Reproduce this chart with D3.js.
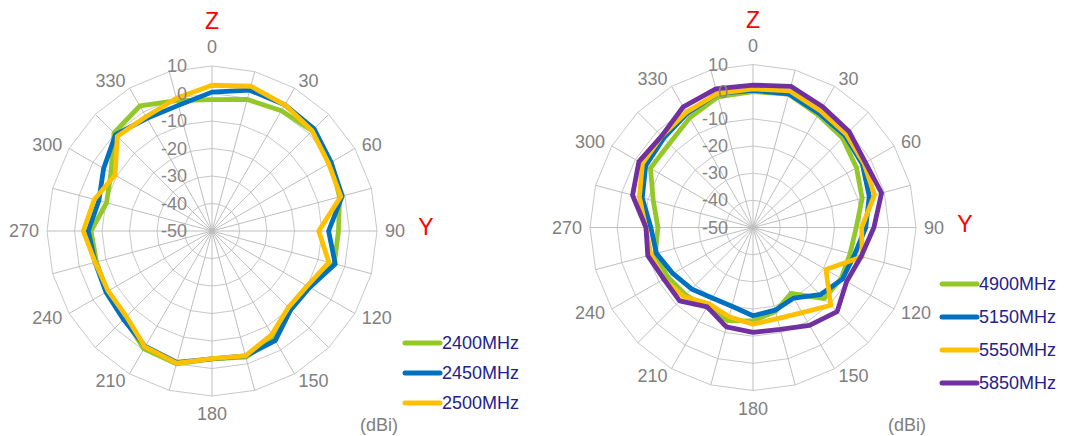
<!DOCTYPE html>
<html>
<head>
<meta charset="utf-8">
<script src="https://cdn.jsdelivr.net/npm/d3@7"></script>
<style>
  body { margin: 0; background: #fff; }
  svg text { font-family: "Liberation Sans", Arial, sans-serif; }
</style>
</head>
<body>
<div id="my_dataviz"></div>
<script>
// angle categories (degrees) and radial tick labels (dBi)
var angles = [0, 15, 30, 45, 60, 75, 90, 105, 120, 135, 150, 165,
              180, 195, 210, 225, 240, 255, 270, 285, 300, 315, 330, 345];
var angleLabels = [0, 30, 60, 90, 120, 150, 180, 210, 240, 270, 300, 330];
var ringTicks = [-50, -40, -30, -20, -10, 0, 10];

// 2.4 GHz band
var f2400 = [-2.2, -0.5, 0.5, 1.5, 0, -2, -4, -4, -10, -10.5, -5, -2.5,
             -3.5, 0, -0.5, -5, -6, -6.5, -6, -10.3, -7.6, 0.4, 2.5, -0.9];
var f2450 = [0.5, 3, 3, 2.5, 0, -1, -7.6, -3.6, -9, -9.5, -4, -3,
             -3.5, -0.5, -1.5, -4.5, -5.5, -6, -5, -7.4, -4.5, -0.4, -2.7, -2.7];
var f2500 = [3, 4.5, 3, 1.5, -1, -1.5, -11.2, -6, -10, -10.7, -6.5, -3,
             -3.6, -0.3, -1.3, -6, -6.4, -6, -3.2, -5.7, -9.3, -1.3, -2, 0];

// 5 GHz band
var f4900 = [0, 0.8, -2.1, -3.4, -6, -8.4, -12, -13, -12.5, -13, -22, -18,
             -15.6, -14.5, -16, -14.9, -13.7, -12.8, -15, -12, -6.4, -6.4, -3.4, -0.2];
var f5150 = [0.5, 0.9, -1.4, -2.1, -3.5, -5.7, -8.5, -11.3, -12, -15, -20, -18.5,
             -17.5, -20, -20, -18, -16, -13.2, -12.4, -7.8, -4.4, -3.5, -1.5, 1];
var f5550 = [1, 2.1, -0.4, -1.4, -2.8, -3.7, -10, -8.4, -19, -9.5, -13.8, -15.3,
             -14.4, -16, -17.6, -14, -12, -11.1, -10.5, -6.7, -3, -2.4, -1, 1];
var f5850 = [2.4, 3.8, 1.3, 0, -2.2, -1, -5.5, -8.8, -10.2, -6.2, -8.4, -11.2,
             -11.4, -12.1, -16.3, -11.8, -12.1, -9.9, -10.6, -4.1, -1.5, -2.4, 1.3, 2.8];

var width = 1067, height = 436;

var svg = d3.select("#my_dataviz")
            .append("svg")
              .attr("width", width)
              .attr("height", height);

drawRadar({cx: 212, cy: 231, R: 165,
           series: [
             {name: "2400MHz", values: f2400, color: "#94C828"},
             {name: "2450MHz", values: f2450, color: "#0070C0"},
             {name: "2500MHz", values: f2500, color: "#FFC000"}],
           legend: {x: 405, y: 343, step: 30},
           unit: {x: 360, y: 431}});

drawRadar({cx: 753, cy: 227.5, R: 163,
           series: [
             {name: "4900MHz", values: f4900, color: "#94C828"},
             {name: "5150MHz", values: f5150, color: "#0070C0"},
             {name: "5550MHz", values: f5550, color: "#FFC000"},
             {name: "5850MHz", values: f5850, color: "#7030A0"}],
           legend: {x: 942, y: 284, step: 33},
           unit: {x: 888, y: 431}});

function drawRadar(cfg) {
  var g = svg.append("g")
             .attr("transform", "translate(" + cfg.cx + "," + cfg.cy + ")");

  var r = d3.scaleLinear()
            .domain([d3.min(ringTicks), d3.max(ringTicks)])
            .range([0, cfg.R]);
  var a = d3.scaleLinear()
            .domain([0, 360])
            .range([0, 2 * Math.PI]);

  var ring = d3.lineRadial()
               .angle(function (d) { return a(d); })
               .curve(d3.curveLinearClosed);

  // polygon rings
  g.append("g")
   .selectAll("path")
   .data(ringTicks.slice(1))
   .enter()
   .append("path")
     .attr("d", function (t) { return ring.radius(r(t))(angles); })
     .attr("fill", "none")
     .attr("stroke", "#C8C8C8")
     .attr("stroke-width", 1);

  // spokes
  g.append("g")
   .selectAll("line")
   .data(angles)
   .enter()
   .append("line")
     .attr("x1", 0).attr("y1", 0)
     .attr("x2", function (d) { return r(10) * Math.sin(a(d)); })
     .attr("y2", function (d) { return -r(10) * Math.cos(a(d)); })
     .attr("stroke", "#BEBEBE")
     .attr("stroke-width", 1);

  // angle labels, anchored just outside the outer ring
  var lr = cfg.R + 8;
  g.append("g")
   .selectAll("text")
   .data(angleLabels)
   .enter()
   .append("text")
     .attr("text-anchor", function (d) {
       var s = Math.sin(a(d));
       return s > 0.01 ? "start" : (s < -0.01 ? "end" : "middle");
     })
     .attr("dominant-baseline", "central")
     .attr("x", function (d) { return lr * Math.sin(a(d)); })
     .attr("y", function (d) {
       var c = Math.cos(a(d));
       var shift = Math.abs(Math.sin(a(d))) < 0.01 ? (c > 0 ? -11 : 10) : 0;
       return -lr * c + shift;
     })
     .style("font-size", "18px")
     .attr("fill", "#808080")
     .text(function (d) { return d; });

  // data lines
  var line = d3.lineRadial()
               .angle(function (d, i) { return a(angles[i]); })
               .radius(function (d) { return r(d); })
               .curve(d3.curveLinearClosed);

  g.append("g")
   .selectAll("path")
   .data(cfg.series)
   .enter()
   .append("path")
     .attr("d", function (s) { return line(s.values); })
     .attr("fill", "none")
     .attr("stroke", function (s) { return s.color; })
     .attr("stroke-width", 4.8)
     .attr("stroke-linejoin", "round");

  // radial tick labels
  g.append("g")
   .selectAll("text")
   .data(ringTicks)
   .enter()
   .append("text")
     .attr("text-anchor", "end")
     .attr("dominant-baseline", "central")
     .attr("x", -25)
     .attr("y", function (t) { return -r(t); })
     .style("font-size", "18px")
     .attr("fill", "#858585")
     .text(function (t) { return t; });

  // axis names
  g.append("text")
   .attr("text-anchor", "middle")
   .attr("dominant-baseline", "central")
   .attr("x", 0)
   .attr("y", -cfg.R - 45)
   .style("font-size", "23px")
   .attr("fill", "#FF0000")
   .text("Z");
  g.append("text")
   .attr("text-anchor", "middle")
   .attr("dominant-baseline", "central")
   .attr("x", cfg.R + 49)
   .attr("y", -4)
   .style("font-size", "23px")
   .attr("fill", "#FF0000")
   .text("Y");

  // legend
  var lg = svg.append("g")
              .selectAll("g")
              .data(cfg.series)
              .enter()
              .append("g")
                .attr("transform", function (s, i) {
                  return "translate(" + cfg.legend.x + "," + (cfg.legend.y + i * cfg.legend.step) + ")";
                });
  lg.append("line")
    .attr("x1", 0).attr("x2", 35)
    .attr("y1", 0).attr("y2", 0)
    .attr("stroke", function (s) { return s.color; })
    .attr("stroke-width", 5)
    .attr("stroke-linecap", "round");
  lg.append("text")
    .attr("x", 37)
    .attr("y", 0)
    .attr("dominant-baseline", "central")
    .style("font-size", "18px")
    .attr("fill", "#22228C")
    .text(function (s) { return s.name; });

  svg.append("text")
     .attr("x", cfg.unit.x)
     .attr("y", cfg.unit.y)
     .style("font-size", "18px")
     .attr("fill", "#808080")
     .text("(dBi)");
}
</script>
</body>
</html>
